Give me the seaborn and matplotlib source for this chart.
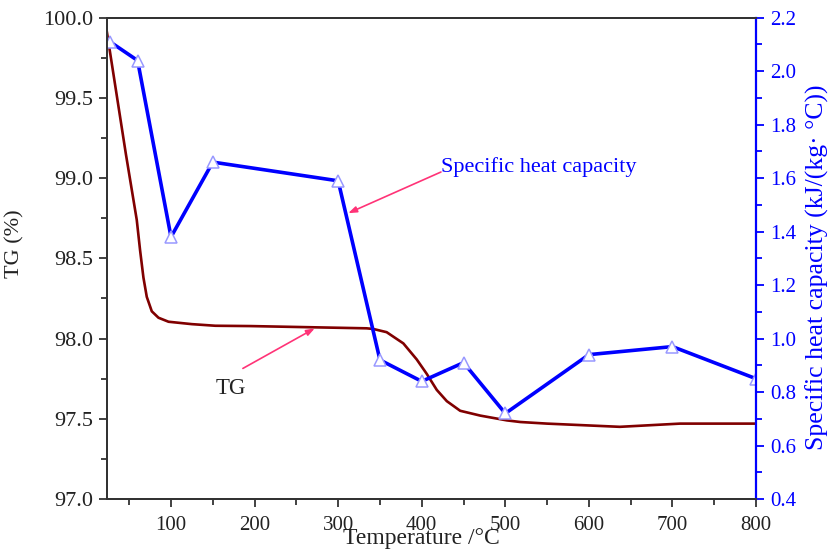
import matplotlib
matplotlib.use("Agg")
import matplotlib.pyplot as plt
from matplotlib.ticker import MultipleLocator, FormatStrFormatter
import seaborn as sns
import pandas as pd

# Thermogravimetric curve
tg_temp = [23, 46, 59, 63, 67, 71, 77, 85, 97, 125, 153, 195, 274, 334, 342,
           358, 378, 394, 406, 418, 430, 446, 470, 502, 518, 550, 637, 709, 800]
tg_vals = [99.92, 99.15, 98.74, 98.55, 98.38, 98.26, 98.17, 98.13, 98.105, 98.09,
           98.08, 98.078, 98.07, 98.064, 98.06, 98.04, 97.97, 97.87, 97.78, 97.68,
           97.61, 97.55, 97.52, 97.49, 97.48, 97.47, 97.45, 97.47, 97.47]

# Specific heat capacity measurements
cp_temp = [27, 60, 100, 150, 300, 350, 400, 450, 500, 600, 700, 800]
cp_vals = [2.11, 2.04, 1.38, 1.66, 1.59, 0.92, 0.84, 0.91, 0.72, 0.94, 0.97, 0.85]

tg_df = pd.DataFrame({"T": tg_temp, "TG": tg_vals})
cp_df = pd.DataFrame({"T": cp_temp, "Cp": cp_vals})

sns.set_style("ticks")
plt.rcParams["font.family"] = ["Liberation Serif", "DejaVu Serif"]

BLUE = "#0000FF"
RED = "#800000"
PINK = "#FF3377"

fig = plt.figure(figsize=(8.32, 5.59), dpi=100)
ax = fig.add_axes([0.1282, 0.1073, 0.7805, 0.8610])
ax2 = ax.twinx()

sns.lineplot(data=tg_df, x="T", y="TG", ax=ax, color=RED, lw=1.9,
             sort=False, estimator=None)
sns.lineplot(data=cp_df, x="T", y="Cp", ax=ax2, color=BLUE, lw=2.6,
             sort=False, estimator=None, marker="^", markersize=9,
             markerfacecolor="white", markeredgecolor="#9999FF",
             markeredgewidth=1.1)

ax.set_xlim(23, 800)
ax.set_ylim(97.0, 100.0)
ax2.set_ylim(0.4, 2.2)

ax.yaxis.set_major_locator(MultipleLocator(0.5))
ax.yaxis.set_minor_locator(MultipleLocator(0.25))
ax.yaxis.set_major_formatter(FormatStrFormatter("%.1f"))
ax2.yaxis.set_major_locator(MultipleLocator(0.2))
ax2.yaxis.set_minor_locator(MultipleLocator(0.1))
ax2.yaxis.set_major_formatter(FormatStrFormatter("%.1f"))
ax.set_xticks(range(100, 801, 100))
ax.set_xticks(range(50, 801, 50), minor=True)

for a in (ax, ax2):
    for s in a.spines.values():
        s.set_linewidth(1.4)
        s.set_color("#333333")
ax2.spines["right"].set_color(BLUE)
ax2.spines["right"].set_linewidth(1.6)

ax.tick_params(axis="x", which="major", direction="out", length=6, width=1.3,
               labelsize=15, colors="#333333", labelcolor="#222222", pad=6)
ax.tick_params(axis="x", which="minor", direction="out", length=4, width=1.3,
               colors="#333333")
ax.tick_params(axis="y", which="major", direction="out", length=6, width=1.3,
               labelsize=16, colors="#333333", labelcolor="#222222", pad=4)
ax.tick_params(axis="y", which="minor", direction="out", length=4, width=1.3,
               colors="#333333")
ax.tick_params(top=False, right=False)
ax2.tick_params(axis="y", which="major", direction="out", length=6, width=1.3,
                labelsize=15, colors=BLUE, pad=4)
ax2.tick_params(axis="y", which="minor", direction="out", length=4, width=1.3,
                colors=BLUE)

ax.set_xlabel("Temperature /°C", fontsize=17, color="#222222")
ax.xaxis.set_label_coords(0.485, -0.081)
ax.xaxis.label.set_va("center")
ax.set_ylabel("TG (%)", fontsize=16, color="#222222")
ax.yaxis.set_label_coords(-0.126, 0.53)
ax2.set_ylabel("Specific heat capacity (kJ/(kg· °C))", fontsize=18.5, color=BLUE)
ax2.yaxis.set_label_coords(1.076, 0.482)

# Annotations
ax2.text(423, 1.64, "Specific heat capacity", fontsize=16, color=BLUE,
         ha="left", va="center")
ax2.annotate("", xy=(312, 1.469), xytext=(423, 1.623),
             arrowprops=dict(arrowstyle="-|>,head_length=0.5,head_width=0.18",
                             color=PINK, lw=1.2, shrinkA=0, shrinkB=0))
ax.text(172, 97.69, "TG", fontsize=16.5, color="#222222", ha="center", va="center")
ax.annotate("", xy=(272, 98.064), xytext=(186, 97.814),
            arrowprops=dict(arrowstyle="-|>,head_length=0.5,head_width=0.18",
                            color=PINK, lw=1.2, shrinkA=0, shrinkB=0))

fig.savefig("out.png", dpi=100)
